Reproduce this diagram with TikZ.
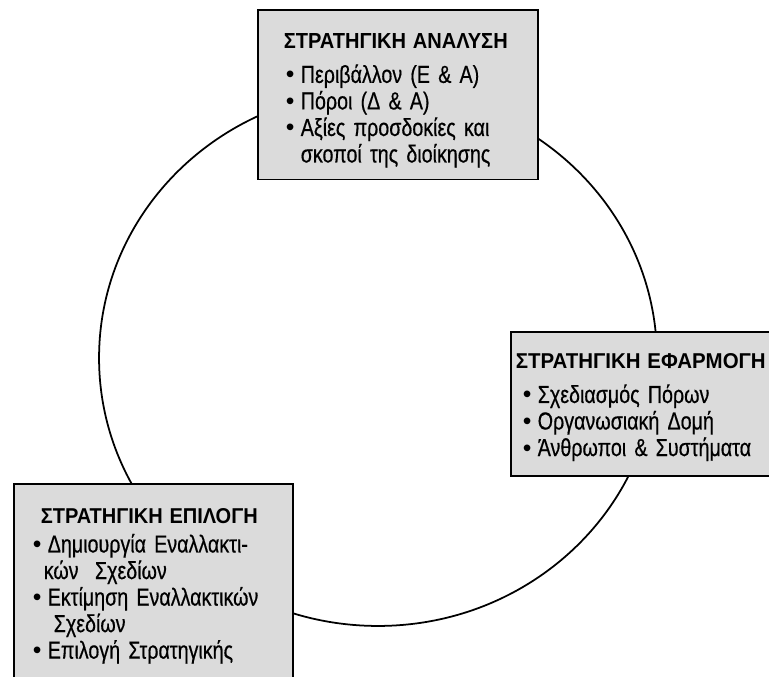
\documentclass[tikz,border=0pt]{standalone}
\usepackage{graphicx}
\usepackage{fontspec}
\setmainfont{Liberation Sans}[FakeStretch=0.8, FakeBold=0.5]
\newfontfamily\headingfont{Liberation Sans}

\tikzstyle{stage}=[draw, line width=0.9pt, fill=black!14, anchor=north west, align=left,
  inner xsep=0pt, inner ysep=0pt, font=\fontsize{14}{15.1}\selectfont]
\tikzstyle{cycle line}=[line width=1pt]

\newcommand{\heading}[2]{\resizebox{#1}{0.3cm}{\headingfont\bfseries #2}}
\newcommand{\bul}[1]{\makebox[0.34cm][l]{\hspace{0.04cm}{\headingfont\textbullet}}\mbox{#1}}

\begin{document}
\begin{tikzpicture}[x=0.02cm,y=-0.02cm]
            \useasboundingbox (0,0) rectangle (769,677);
            \coordinate (hub) at (378,358);
            \draw[cycle line] (hub) ellipse [x radius=5.58cm, y radius=5.36cm];
            \node[stage, text width=5.6cm] at (257,9) (analysis) {%
              \hspace*{0.52cm}\rule{0pt}{22.1pt}\heading{4.48cm}{ΣΤΡΑΤΗΓΙΚΗ ΑΝΑΛΥΣΗ}\\[4.4pt]
              \hspace*{0.52cm}\bul{Περιβάλλον (Ε \& Α)}\\
              \hspace*{0.52cm}\bul{Πόροι (Δ \& Α)}\\
              \hspace*{0.52cm}\bul{Αξίες προσδοκίες και}\\
              \hspace*{0.86cm}\mbox{σκοποί της διοίκησης}\rule[-9.6pt]{0pt}{0pt}};
            \node[stage, text width=6cm] at (510,331) (implementation) {%
              \hspace*{0.1cm}\rule{0pt}{21pt}\heading{5.0cm}{ΣΤΡΑΤΗΓΙΚΗ ΕΦΑΡΜΟΓΗ}\\[4.4pt]
              \hspace*{0.2cm}\bul{Σχεδιασμός Πόρων}\\
              \hspace*{0.2cm}\bul{Οργανωσιακή Δομή}\\
              \hspace*{0.2cm}\bul{Άνθρωποι \& Συστήματα}\rule[-11.3pt]{0pt}{0pt}};
            \node[stage, text width=5.58cm] at (13,483) (choice) {%
              \hspace*{0.54cm}\rule{0pt}{22.7pt}\heading{4.34cm}{ΣΤΡΑΤΗΓΙΚΗ ΕΠΙΛΟΓΗ}\\[1.3pt]
              \hspace*{0.34cm}\bul{Δημιουργία Εναλλακτι-}\\
              \hspace*{0.6cm}\mbox{κών\ \ Σχεδίων}\\
              \hspace*{0.34cm}\bul{Εκτίμηση Εναλλακτικών}\\
              \hspace*{0.8cm}\mbox{Σχεδίων}\\
              \hspace*{0.34cm}\bul{Επιλογή Στρατηγικής}\rule[-17pt]{0pt}{0pt}};
        \end{tikzpicture}
\end{document}
